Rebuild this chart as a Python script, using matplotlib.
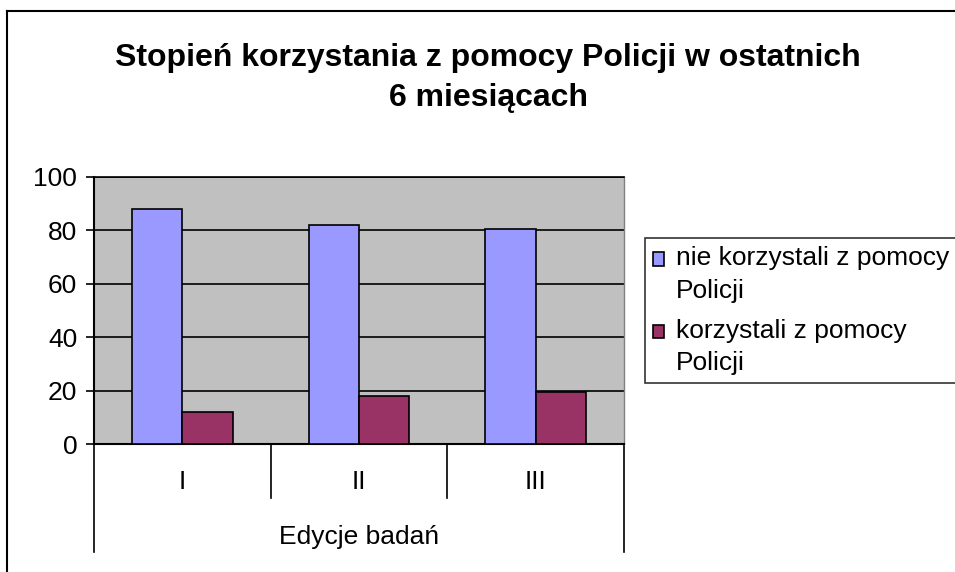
import matplotlib.pyplot as plt
import matplotlib.patches as mpatches
from matplotlib.legend_handler import HandlerPatch
import numpy as np

# dane
edycje = ["I", "II", "III"]
nie_korzystali = [88, 82, 80.6]
korzystali = [12, 18, 19.4]
etykiety = ["nie korzystali z pomocy\nPolicji", "korzystali z pomocy\nPolicji"]
tytul = "Stopień korzystania z pomocy Policji w ostatnich\n6 miesiącach"
os_x = "Edycje badań"

kolor_1 = "#9999FF"
kolor_2 = "#993366"
tlo = "#C0C0C0"
fs = 19

plt.rcParams['font.family'] = ['Liberation Sans', 'DejaVu Sans']

fig = plt.figure(figsize=(9.55, 5.72), dpi=100)
ax = fig.add_axes([94/955, 1-444/572, (624-94)/955, (444-177)/572])
ax.set_facecolor(tlo)

x = np.arange(len(edycje))
w = 0.284
b1 = ax.bar(x - w/2, nie_korzystali, w, color=kolor_1, edgecolor='black', linewidth=1.2, zorder=3)
b2 = ax.bar(x + w/2, korzystali, w, color=kolor_2, edgecolor='black', linewidth=1.2, zorder=3)

ax.set_xlim(-0.5, 2.5)
ax.set_ylim(0, 100)
ax.set_yticks(range(0, 101, 20))
ax.yaxis.grid(True, color='black', linewidth=1.2, zorder=1)
ax.tick_params(axis='y', labelsize=fs, length=6, width=1.2, pad=6)
ax.set_xticks([])

for s in ['left', 'bottom']:
    ax.spines[s].set_color('black')
    ax.spines[s].set_linewidth(1.5)
ax.spines['top'].set_color('black')
ax.spines['top'].set_linewidth(1.2)
ax.spines['right'].set_color('#808080')
ax.spines['right'].set_linewidth(1)

# kategorie pod osia (styl Excel)
h1 = (498-444)/267
h2 = (552-444)/267
for xs in [1/3, 2/3]:
    ax.plot([xs, xs], [0, -h1], transform=ax.transAxes, color='black', lw=1.2, clip_on=False)
for xs in [0, 1]:
    ax.plot([xs, xs], [0, -h2], transform=ax.transAxes, color='black', lw=1.2, clip_on=False)
for i, e in enumerate(edycje):
    ax.text((i + 0.5)/3, -(482-444)/267, e, transform=ax.transAxes, ha='center', va='center', fontsize=fs)
ax.text(0.5, -(537-444)/267, os_x, transform=ax.transAxes, ha='center', va='center', fontsize=fs)

fig.text(488/955, 1-78/572, tytul, ha='center', va='center', fontsize=23, fontweight='bold',
         linespacing=1.45)

# kwadraty legendy na wysokosci pierwszej linii tekstu
def kwadrat(legend, orig_handle, xdescent, ydescent, width, height, fontsize):
    return mpatches.Rectangle((-xdescent, -ydescent + 0.58*fontsize), width, height)

leg = fig.legend(handles=[b1[0], b2[0]], labels=etykiety, loc='lower left',
                 bbox_to_anchor=(645/955, 1-383/572),
                 fontsize=fs, frameon=True, fancybox=False, edgecolor='black',
                 handlelength=0.42, handleheight=0.42, handletextpad=0.45, borderpad=0.3,
                 labelspacing=0.6, borderaxespad=0,
                 handler_map={mpatches.Rectangle: HandlerPatch(patch_func=kwadrat)})
leg.get_frame().set_linewidth(1.2)
for t in leg.get_texts():
    t.set_linespacing(1.45)

# ramka wykresu
fig.add_artist(plt.Line2D([7/955, 7/955], [0, 1-11/572], transform=fig.transFigure, color='black', lw=1.5))
fig.add_artist(plt.Line2D([7/955, 1], [1-11/572, 1-11/572], transform=fig.transFigure, color='black', lw=1.5))

fig.savefig('out.png', dpi=100)
